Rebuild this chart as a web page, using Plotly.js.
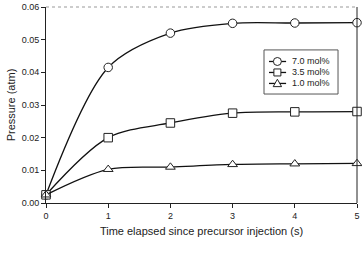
<!DOCTYPE html>
<html>
<head>
<meta charset="utf-8">
<script src="https://cdn.plot.ly/plotly-3.0.1.min.js"></script>
<style>html,body{margin:0;padding:0;background:#fff;}#chart{width:362px;height:269px;}</style>
</head>
<body>
<div id="chart"></div>
<script>
// Pressure rise after precursor injection, three concentrations
const timeS = [0, 1, 2, 3, 4, 5];
const p70 = [0.0025, 0.0415, 0.0520, 0.0550, 0.0551, 0.0552];
const p35 = [0.0025, 0.0200, 0.0245, 0.0275, 0.0279, 0.0280];
const p10 = [0.0025, 0.0103, 0.0110, 0.0118, 0.0120, 0.0121];
const seriesNames = ['7.0 mol%', '3.5 mol%', '1.0 mol%'];
const seriesSymbols = ['circle', 'square', 'triangle-up'];
const xTicks = [0, 1, 2, 3, 4, 5];
const yTicks = [0, 0.01, 0.02, 0.03, 0.04, 0.05, 0.06];
const yTickText = ['0.00', '0.01', '0.02', '0.03', '0.04', '0.05', '0.06'];

const ink = '#222';

function series(y, name, symbol) {
  return {
    x: timeS, y: y, name: name, type: 'scatter', mode: 'lines+markers',
    line: {color: '#111', width: 1.3, shape: 'spline', smoothing: 0.9},
    marker: {symbol: symbol, size: 8.5, color: '#fff', line: {color: ink, width: 1}},
    cliponaxis: false, showlegend: false
  };
}

const data = [
  series(p70, seriesNames[0], seriesSymbols[0]),
  series(p35, seriesNames[1], seriesSymbols[1]),
  series(p10, seriesNames[2], seriesSymbols[2])
];

// Hand-built key box in paper coordinates (compact, like the original figure)
const key = {x0: 0.701, x1: 0.939, y0: 0.556, y1: 0.781,
             rows: [0.722, 0.666, 0.610], lineX0: 0.717, lineX1: 0.772, symX: 0.744, textX: 0.783};

const shapes = [
  {type: 'line', xref: 'paper', yref: 'paper', x0: 0, x1: 1, y0: 1, y1: 1,
   line: {color: '#999', width: 1, dash: 'dot'}},
  {type: 'line', xref: 'paper', yref: 'paper', x0: 1, x1: 1, y0: 0, y1: 1,
   line: {color: ink, width: 1}},
  {type: 'rect', xref: 'paper', yref: 'paper', x0: key.x0, x1: key.x1, y0: key.y0, y1: key.y1,
   fillcolor: '#fff', line: {color: '#555', width: 1}}
];
const annotations = [];

seriesNames.forEach(function (name, i) {
  const yy = key.rows[i];
  shapes.push({type: 'line', xref: 'paper', yref: 'paper', x0: key.lineX0, x1: key.lineX1, y0: yy, y1: yy,
               line: {color: '#111', width: 1.3}});
  const sym = {xref: 'paper', yref: 'paper', xsizemode: 'pixel', ysizemode: 'pixel',
               xanchor: key.symX, yanchor: yy, fillcolor: '#fff', line: {color: ink, width: 1}};
  if (seriesSymbols[i] === 'circle') {
    shapes.push(Object.assign({type: 'circle', x0: -4, x1: 4, y0: -4, y1: 4}, sym));
  } else if (seriesSymbols[i] === 'square') {
    shapes.push(Object.assign({type: 'rect', x0: -3.5, x1: 3.5, y0: -3.5, y1: 3.5}, sym));
  } else {
    shapes.push(Object.assign({type: 'path', path: 'M -4.2,-3.2 L 4.2,-3.2 L 0,4.2 Z'}, sym));
  }
  annotations.push({xref: 'paper', yref: 'paper', x: key.textX, y: yy, xanchor: 'left', yanchor: 'middle',
                    text: name, showarrow: false, font: {size: 9, color: ink}});
});

const font = {family: 'Liberation Sans, Arial, sans-serif', color: ink};

const layout = {
  width: 362, height: 269,
  margin: {l: 46, r: 5, t: 7, b: 66},
  paper_bgcolor: '#fff', plot_bgcolor: '#fff',
  font: font,
  showlegend: false,
  xaxis: {
    range: [0, 5], tickvals: xTicks, ticks: 'outside', ticklen: 4, tickcolor: ink,
    showline: true, linecolor: ink, linewidth: 1, showgrid: false, zeroline: false,
    tickfont: {size: 9, color: ink},
    title: {text: 'Time elapsed since precursor injection (s)', font: {size: 11, color: ink}, standoff: 7}
  },
  yaxis: {
    range: [0, 0.06], tickvals: yTicks, ticktext: yTickText, ticks: 'outside', ticklen: 4, tickcolor: ink,
    showline: true, linecolor: ink, linewidth: 1, showgrid: false, zeroline: false,
    tickfont: {size: 9, color: ink},
    title: {text: 'Pressure (atm)', font: {size: 11, color: ink}, standoff: 3}
  },
  shapes: shapes,
  annotations: annotations
};

Plotly.newPlot('chart', data, layout, {displayModeBar: false, staticPlot: true});
</script>
</body>
</html>
